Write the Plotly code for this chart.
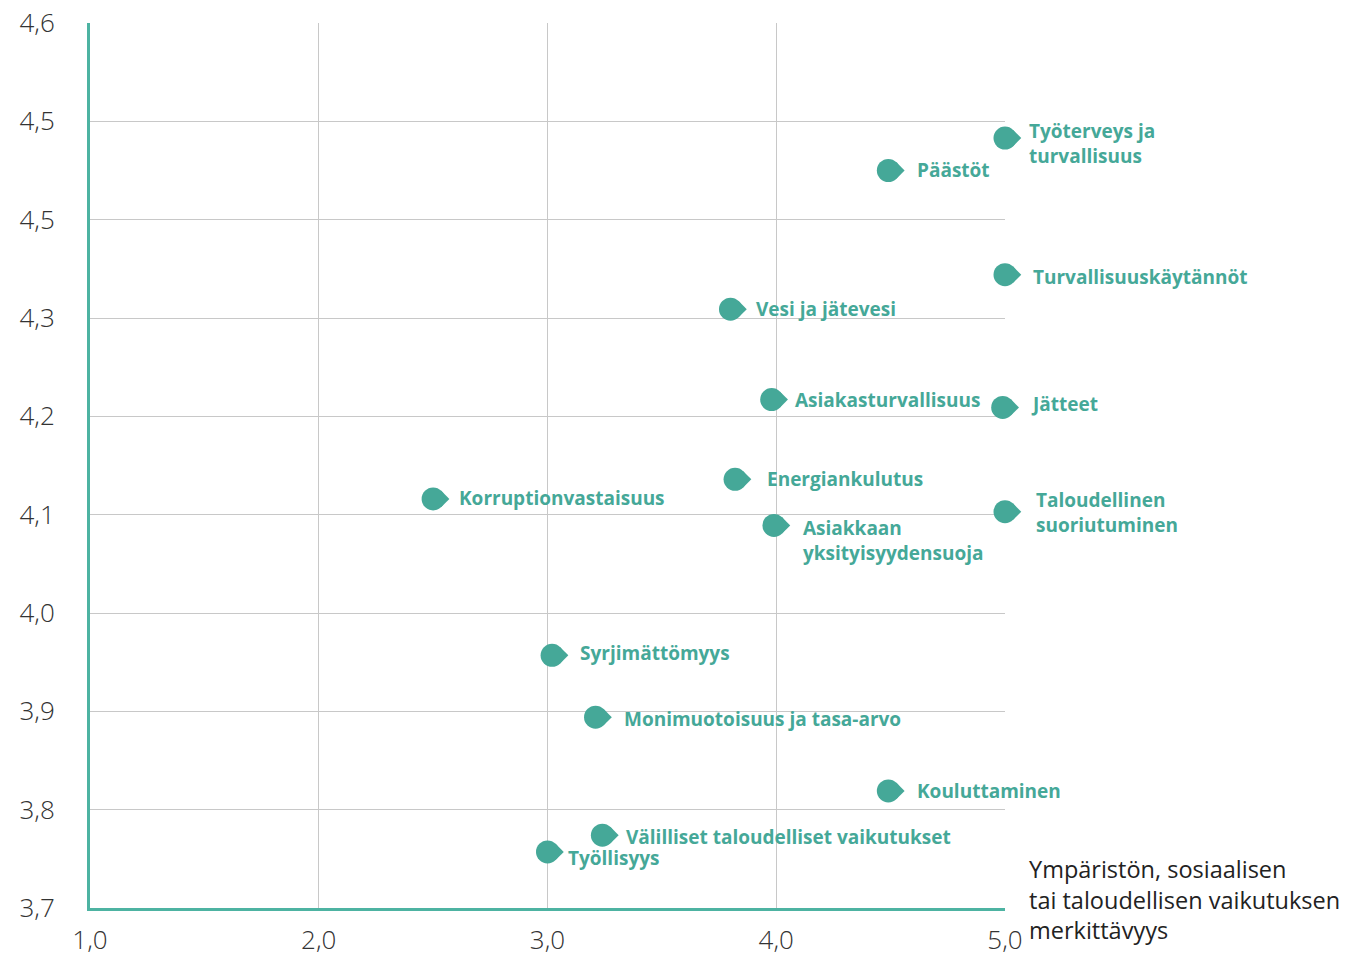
import plotly.graph_objects as go

names = [
    "Työterveys ja<br>turvallisuus", "Päästöt", "Turvallisuuskäytännöt", "Vesi ja jätevesi",
    "Asiakasturvallisuus", "Jätteet", "Energiankulutus", "Korruptionvastaisuus",
    "Asiakkaan<br>yksityisyydensuoja", "Taloudellinen<br>suoriutuminen", "Syrjimättömyys",
    "Monimuotoisuus ja tasa-arvo", "Kouluttaminen", "Välilliset taloudelliset vaikutukset",
    "Työllisyys",
]
significance = [5.0, 4.49, 5.0, 3.80, 3.98, 4.99, 3.82, 2.50, 3.99, 5.0, 3.02, 3.21, 4.49, 3.24, 3.0]
importance = [4.483, 4.45, 4.344, 4.309, 4.217, 4.209, 4.136, 4.116, 4.089, 4.103, 3.957, 3.894, 3.819, 3.774, 3.757]

x_ticks = [1, 2, 3, 4, 5]
x_ticktext = ["1,0", "2,0", "3,0", "4,0", "5,0"]
y_ticks = [3.7, 3.8, 3.9, 4.0, 4.1, 4.2, 4.3, 4.4, 4.5, 4.6]
y_ticktext = ["3,7", "3,8", "3,9", "4,0", "4,1", "4,2", "4,3", "4,5", "4,5", "4,6"]
axis_title = "Ympäristön, sosiaalisen<br>tai taloudellisen vaikutuksen<br>merkittävyys"

# label offsets in pixels (xshift, yshift) - style, not data
label_offsets = [
    (22, -5), (27, 1), (26, -2), (23, 0), (21, 0), (26, 3),
    (30, 0), (24, 1), (27, -15), (29, -1), (26, 2), (26, -2),
    (27, 0), (22, -2), (18, -6),
]

TEAL = "#45a898"
R = 11.5  # circle radius px

fig = go.Figure()
# pointed part of teardrop: diamond shifted to the right
fig.add_trace(go.Scatter(
    x=significance, y=importance, mode="markers", hoverinfo="skip", cliponaxis=False,
    marker=dict(symbol="diamond", size=R * 1.088, color=TEAL, angle=270,
                standoff=R / 2 ** 0.5, line=dict(width=0)),
))
fig.add_trace(go.Scatter(
    x=significance, y=importance, mode="markers", text=names, cliponaxis=False,
    marker=dict(symbol="circle", size=2 * R, color=TEAL, line=dict(width=0)),
))

for xv, yv, nm, (dx, dy) in zip(significance, importance, names, label_offsets):
    fig.add_annotation(
        x=xv, y=yv, text=nm, showarrow=False, xanchor="left", yanchor="middle",
        align="left", xshift=dx, yshift=dy,
        font=dict(family="Open Sans", size=19, color=TEAL, weight="bold"),
    )

fig.add_annotation(
    xref="paper", yref="paper", x=1, y=0, text=axis_title, showarrow=False,
    xanchor="left", yanchor="middle", align="left", xshift=22, yshift=9,
    font=dict(family="Open Sans", size=23.5, color="#222222"),
)

tickfont = dict(family="Open Sans", size=26, color="#333333", weight=300)
fig.update_layout(
    width=1352, height=957,
    margin=dict(l=90, r=347, t=23, b=49),
    paper_bgcolor="white", plot_bgcolor="white",
    showlegend=False,
    xaxis=dict(
        range=[1, 5], tickvals=x_ticks, ticktext=x_ticktext, automargin=False,
        showgrid=True, gridcolor="#c8c8c8", gridwidth=1,
        showline=True, linecolor="#4db3a2", linewidth=3,
        zeroline=False, ticks="", ticklabelstandoff=7, tickfont=tickfont,
    ),
    yaxis=dict(
        range=[3.7, 4.6], tickvals=y_ticks, ticktext=y_ticktext, automargin=False,
        showgrid=True, gridcolor="#c8c8c8", gridwidth=1,
        showline=True, linecolor="#4db3a2", linewidth=3,
        zeroline=False, ticks="", ticklabelstandoff=27, tickfont=tickfont,
    ),
)

fig.write_html(
    "out.html",
    config={"displayModeBar": False},
    post_script="document.body.style.margin='0px';document.body.style.overflow='hidden';",
)
